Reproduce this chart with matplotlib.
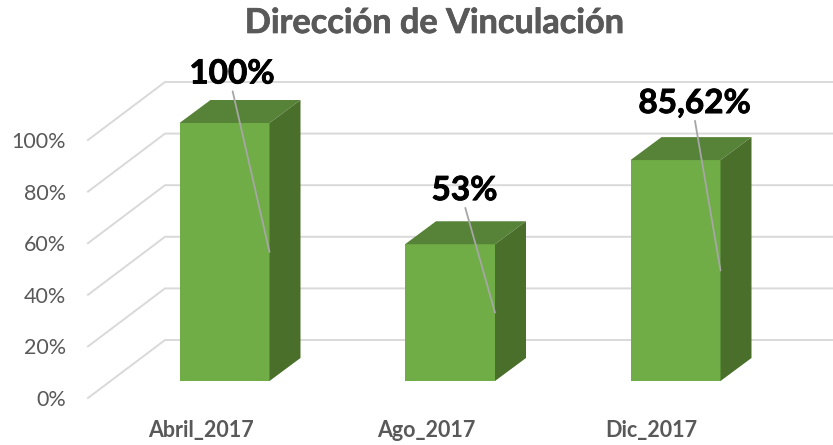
import matplotlib
matplotlib.use("Agg")
import matplotlib.pyplot as plt
from matplotlib.patches import Polygon
import matplotlib.patheffects as pe

# --- data ---
categories = ["Abril_2017", "Ago_2017", "Dic_2017"]
values = [100, 53, 85.62]
value_labels = ["100%", "53%", "85,62%"]
y_ticks = [0, 20, 40, 60, 80, 100]
title = "Dirección de Vinculación"

# --- layout / style ---
W, H = 833, 445
PX_Y = 2.58          # pixels per percent
PX_X = 225.5         # pixels per category
label_offsets = [(-37.5, 178), (-30.5, 122), (-26, 167)]  # label anchor from bar edge, px
FRONT, TOP, SIDE = "#70AD47", "#578338", "#4A6F2B"
GRID, GREY, LEAD = "#D9D9D9", "#595959", "#A6A6A6"

plt.rcParams["font.family"] = ["Lato", "DejaVu Sans"]
fig = plt.figure(figsize=(W / 100, H / 100), dpi=100)
ax = fig.add_axes([88 / W, (H - 398) / H, (W - 88) / W, 398 / H])
ax.set_xlim((88 - 224.5) / PX_X, (W - 224.5) / PX_X)
ax.set_ylim(0, 398 / PX_Y)
for s in ax.spines.values():
    s.set_visible(False)
ax.patch.set_alpha(0)

# floor / wall geometry in data units
x0 = ax.get_xlim()[0]
x1 = ax.get_xlim()[1]
wall_dx, wall_dy = 77 / PX_X, 58 / PX_Y
base = 17 / PX_Y
bar_w = 90 / PX_X
dep_x, dep_y = 31 / PX_X, 23 / PX_Y

for t in y_ticks:
    ax.plot([x0, x0 + wall_dx, x1], [t, t + wall_dy, t + wall_dy],
            color=GRID, lw=1.4, zorder=1, clip_on=False, solid_joinstyle="miter")

for i, (v, txt, off) in enumerate(zip(values, value_labels, label_offsets)):
    l, r = i - bar_w / 2, i + bar_w / 2
    b, t = base, base + v
    ax.add_patch(Polygon([(l, b), (r, b), (r, t), (l, t)], fc=FRONT, ec="none", zorder=3))
    ax.add_patch(Polygon([(l, t), (r, t), (r + dep_x, t + dep_y), (l + dep_x, t + dep_y)],
                         fc=TOP, ec="none", zorder=3))
    ax.add_patch(Polygon([(r, b), (r + dep_x, b + dep_y), (r + dep_x, t + dep_y), (r, t)],
                         fc=SIDE, ec="none", zorder=3))
    ann = ax.annotate(txt, xy=(r, base + v / 2), xytext=off, textcoords="offset pixels",
                      ha="center", va="center", fontsize=24, fontweight="bold", color="black",
                      zorder=5,
                      arrowprops=dict(arrowstyle="-", color=LEAD, lw=1.3, shrinkA=0, shrinkB=0,
                                      relpos=(0.5, 0)))
    ann.set_path_effects([pe.withStroke(linewidth=0.6, foreground="black")])

ax.set_yticks(y_ticks)
ax.set_yticklabels([f"{t}%" for t in y_ticks], fontsize=15.5, color=GREY)
ax.set_xticks([i - 24 / PX_X for i in range(len(categories))])
ax.set_xticklabels(categories, fontsize=15.5, fontweight="bold", color=GREY)
ax.tick_params(axis="y", length=0, pad=16)
ax.tick_params(axis="x", length=0, pad=16)

tt = fig.text(434 / W, 1 - 23 / H, title, ha="center", va="center",
              fontsize=24.7, fontweight="bold", color=GREY)
tt.set_path_effects([pe.withStroke(linewidth=0.5, foreground=GREY)])

fig.savefig("out.png", dpi=100, facecolor="white")
